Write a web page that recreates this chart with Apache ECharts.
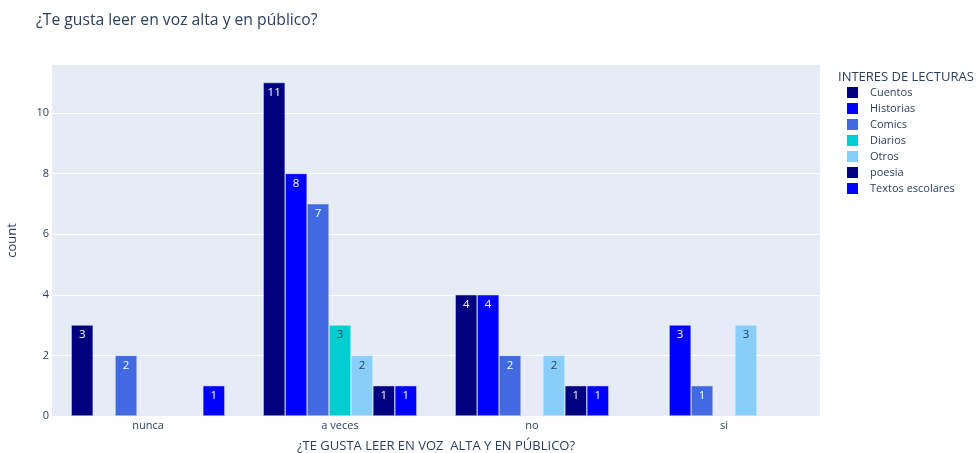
<!DOCTYPE html>
<html>
<head>
<meta charset="utf-8">
<script src="https://cdn.jsdelivr.net/npm/echarts@6/dist/echarts.min.js"></script>
<style>html,body{margin:0;padding:0;background:#fff}#c{width:979px;height:453px}</style>
</head>
<body>
<div id="c"></div>
<script>
const categories = ['nunca', 'a veces', 'no', 'si'];
const seriesNames = ['Cuentos', 'Historias', 'Comics', 'Diarios', 'Otros', 'poesia', 'Textos escolares'];
const cuentos = [3, 11, 4, null];
const historias = [null, 8, 4, 3];
const comics = [2, 7, 2, 1];
const diarios = [null, 3, null, null];
const otros = [null, 2, 2, 3];
const poesia = [null, 1, 1, null];
const textosEscolares = [1, 1, 1, null];
const yTicks = [0, 2, 4, 6, 8, 10];

const values = [cuentos, historias, comics, diarios, otros, poesia, textosEscolares];
const colors = ['#000080', '#0000FF', '#4169E1', '#00CED1', '#87CEFA', '#000080', '#0000FF'];
const labelColors = ['#ffffff', '#ffffff', '#ffffff', '#2a3f5f', '#2a3f5f', '#ffffff', '#ffffff'];
const font = '"Open Sans", Verdana, Arial, sans-serif';

const chart = echarts.init(document.getElementById('c'), null, {renderer: 'canvas'});
chart.setOption({
  animation: false,
  textStyle: {fontFamily: font},
  title: [
    {text: '¿Te gusta leer en voz alta y en público?', left: 31, top: 8,
     textStyle: {fontSize: 15.7, fontWeight: 'normal', color: '#2a3f5f', fontFamily: font}},
    {text: 'INTERES DE LECTURAS', left: 833, top: 66,
     textStyle: {fontSize: 13, fontWeight: 'normal', color: '#2a3f5f', fontFamily: font}}
  ],
  legend: {
    orient: 'vertical', left: 842, top: 81, itemWidth: 11, itemHeight: 11, itemGap: 3,
    icon: 'rect', data: seriesNames,
    itemStyle: {borderWidth: 0},
    textStyle: {fontSize: 11, lineHeight: 13, color: '#2a3f5f', fontFamily: font, padding: [0, 0, 0, 7]}
  },
  grid: {left: 52, right: 159, top: 65, bottom: 37, show: true, backgroundColor: '#E5ECF6', borderWidth: 0,
         outerBoundsMode: 'none', containLabel: false},
  xAxis: {
    type: 'category', data: categories,
    name: '¿TE GUSTA LEER EN VOZ  ALTA Y EN PÚBLICO?', nameLocation: 'middle', nameGap: 24,
    nameTextStyle: {fontSize: 13, color: '#2a3f5f', fontFamily: font},
    axisLine: {show: false}, axisTick: {show: false},
    axisLabel: {fontSize: 11, color: '#2a3f5f', margin: 4, fontFamily: font}
  },
  yAxis: {
    type: 'value', min: 0, max: 11.58, interval: 2,
    name: 'count', nameLocation: 'middle', nameGap: 33,
    nameTextStyle: {fontSize: 13, color: '#2a3f5f', fontFamily: font},
    axisLine: {show: false}, axisTick: {show: false},
    axisLabel: {fontSize: 11, color: '#2a3f5f', margin: 3, fontFamily: font,
      formatter: v => (yTicks.indexOf(v) >= 0 ? String(v) : '')},
    splitLine: {show: true, showMaxLine: false, lineStyle: {color: '#ffffff', width: 1}}
  },
  series: seriesNames.map((n, i) => ({
    name: n, type: 'bar', data: values[i],
    barGap: '0%', barCategoryGap: '20%',
    itemStyle: {color: colors[i], borderColor: '#E5ECF6', borderWidth: 0.5},
    label: {show: true, position: 'insideTop', distance: 4, fontSize: 11.5, color: labelColors[i], fontFamily: font}
  }))
});
</script>
</body>
</html>
